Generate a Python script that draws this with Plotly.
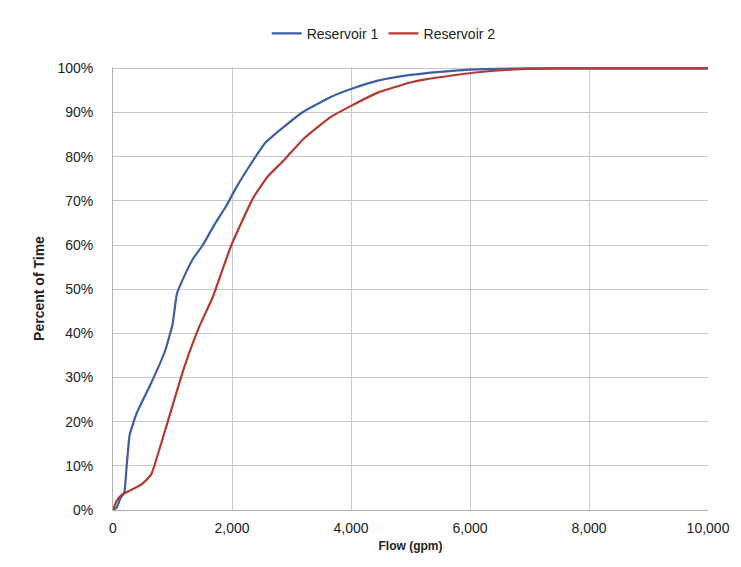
import plotly.graph_objects as go

# Flow (gpm) and cumulative percent of time
res1_flow = [0, 60, 120, 190, 230, 280, 400, 640, 875, 1000, 1075, 1200, 1350, 1510, 1700, 1910, 2070, 2300, 2550, 2850, 3180, 3660, 4000, 4450, 5000, 5500, 6000, 6500, 7000, 8000, 9000, 10000]
res1_pct = [0.0, 0.005, 0.025, 0.04, 0.10, 0.17, 0.22, 0.287, 0.36, 0.42, 0.49, 0.53, 0.57, 0.60, 0.645, 0.69, 0.73, 0.78, 0.83, 0.865, 0.90, 0.935, 0.953, 0.972, 0.985, 0.992, 0.997, 0.999, 1.0, 1.0, 1.0, 1.0]

res2_flow = [0, 60, 150, 300, 480, 640, 875, 1190, 1450, 1670, 1990, 2350, 2600, 2860, 3200, 3660, 4000, 4450, 5000, 5250, 6050, 6840, 7500, 8000, 9000, 10000]
res2_pct = [0.0, 0.02, 0.035, 0.045, 0.058, 0.08, 0.18, 0.32, 0.415, 0.48, 0.60, 0.705, 0.755, 0.79, 0.84, 0.89, 0.915, 0.945, 0.968, 0.975, 0.99, 0.998, 1.0, 1.0, 1.0, 1.0]

fig = go.Figure()
fig.add_trace(go.Scatter(x=res1_flow, y=res1_pct, mode="lines", name="Reservoir 1",
                         line=dict(color="#3d5ea6", width=2.2, shape="spline", smoothing=0.4)))
fig.add_trace(go.Scatter(x=res2_flow, y=res2_pct, mode="lines", name="Reservoir 2",
                         line=dict(color="#b33a33", width=2.2, shape="spline", smoothing=0.4)))

font_family = "Liberation Sans, Arial, sans-serif"
fig.update_layout(
    width=741, height=567,
    margin=dict(l=105, r=41, t=59, b=65, autoexpand=False),
    paper_bgcolor="white", plot_bgcolor="white",
    font=dict(family=font_family, size=14, color="#222222"),
    showlegend=True,
    legend=dict(orientation="h", x=0.455, xanchor="center", y=1.075, yanchor="middle",
                font=dict(size=14, color="#222222"), itemwidth=30),
    xaxis=dict(range=[0, 10000], dtick=2000, tickformat=",d", showgrid=True,
               gridcolor="#c8c8c8", gridwidth=1.2, showline=True, linecolor="#b0b0b0",
               zeroline=False, ticks="", ticklabelstandoff=5, automargin=False,
               title=dict(text="<b>Flow (gpm)</b>", font=dict(size=12), standoff=6)),
    yaxis=dict(range=[0, 1.003], dtick=0.1, tickformat=".0%", showgrid=True,
               gridcolor="#c8c8c8", gridwidth=1.2, showline=True, linecolor="#b0b0b0",
               zeroline=False, ticks="", ticklabelstandoff=16, automargin=False,
               title=dict(text="<b>Percent of Time</b>", font=dict(size=14), standoff=9)),
)

fig.write_html("out.html")
